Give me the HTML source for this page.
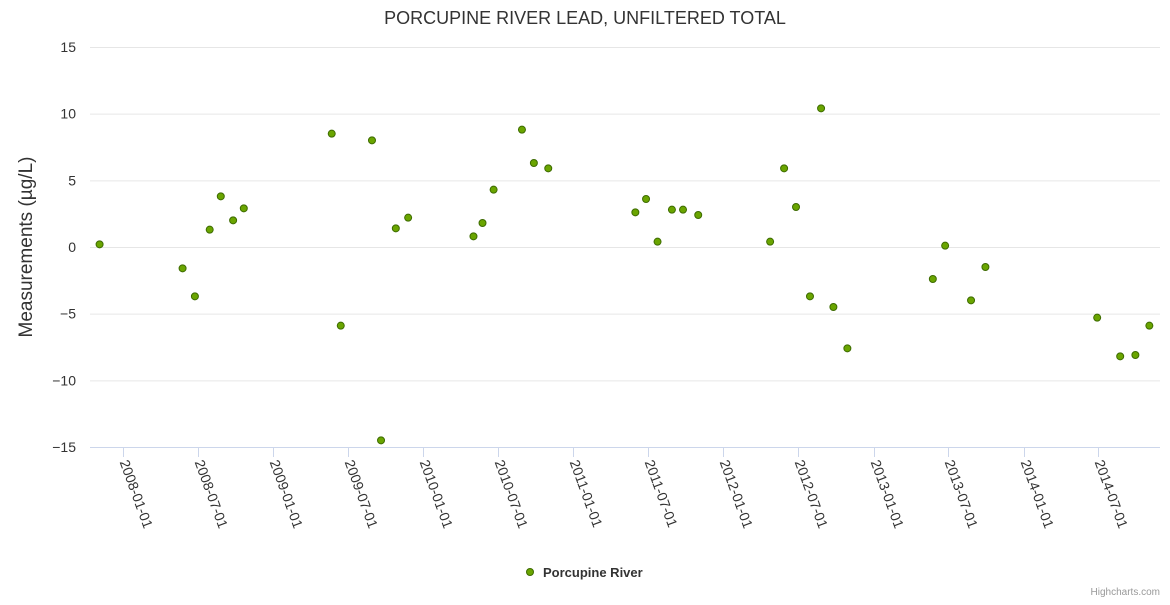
<!DOCTYPE html>
<html><head><meta charset="utf-8"><style>
body{margin:0;background:#fff;font-family:"Liberation Sans",sans-serif}
svg text{font-family:"Liberation Sans",sans-serif}
</style></head><body>
<svg id="c" width="1170" height="600"></svg>
<script>
const dates=["2007-11-05","2008-05-25","2008-06-24","2008-07-30","2008-08-26","2008-09-25","2008-10-21","2009-05-23","2009-06-14","2009-08-29","2009-09-20","2009-10-26","2009-11-25","2010-05-03","2010-05-25","2010-06-21","2010-08-29","2010-09-27","2010-11-01","2011-06-01","2011-06-27","2011-07-25","2011-08-29","2011-09-25","2011-11-01","2012-04-24","2012-05-28","2012-06-26","2012-07-30","2012-08-26","2012-09-25","2012-10-29","2013-05-25","2013-06-24","2013-08-26","2013-09-30","2014-06-29","2014-08-24","2014-09-30","2014-11-03"];
const values=[0.2,-1.6,-3.7,1.3,3.8,2.0,2.9,8.5,-5.9,8.0,-14.5,1.4,2.2,0.8,1.8,4.3,8.8,6.3,5.9,2.6,3.6,0.4,2.8,2.8,2.4,0.4,5.9,3.0,-3.7,10.4,-4.5,-7.6,-2.4,0.1,-4.0,-1.5,-5.3,-8.2,-8.1,-5.9];
const yTicks=[15,10,5,0,-5,-10,-15];
const xTicks=["2008-01-01","2008-07-01","2009-01-01","2009-07-01","2010-01-01","2010-07-01","2011-01-01","2011-07-01","2012-01-01","2012-07-01","2013-01-01","2013-07-01","2014-01-01","2014-07-01"];
const svg=document.getElementById('c');const NS="http://www.w3.org/2000/svg";
function mk(t,a,p){const e=document.createElementNS(NS,t);for(const k in a)e.setAttribute(k,a[k]);(p||svg).appendChild(e);return e;}
const d0=Date.UTC(2008,0,1),d1=Date.UTC(2014,6,1);
function X(s){const t=Date.parse(s+"T00:00:00Z");return 123+(t-d0)/(d1-d0)*975;}
function Y(v){return 247-v*200/15;}
let t=mk('text',{x:585,y:24,'text-anchor':'middle','font-size':18,fill:'#333'});t.textContent="PORCUPINE RIVER LEAD, UNFILTERED TOTAL";


yTicks.forEach(v=>{
 const g=mk('line',{x1:90,x2:1160,y1:Y(v)+0.5,y2:Y(v)+0.5,stroke:'#e6e6e6'});
 
 
 const l=mk('text',{x:76,y:Y(v)+5,'text-anchor':'end','font-size':14,fill:'#333'});l.textContent=v<0?"−"+(-v):v;
 
 
});
const ax=mk('line',{x1:90,x2:1160,y1:447.5,y2:447.5,stroke:'#ccd6eb'});


xTicks.forEach(s=>{
 const x=Math.round(X(s))+0.5;
 const k=mk('line',{x1:x,x2:x,y1:447,y2:457,stroke:'#ccd6eb'});
 
 
 const l=mk('text',{x:x-4,y:462,'font-size':14,fill:'#333',transform:`rotate(70 ${x-4} 462)`});l.textContent=s;
 
 
});
const yt=mk('text',{x:32,y:247,'text-anchor':'middle','font-size':19,fill:'#333',transform:'rotate(-90 32 247)'});yt.textContent="Measurements (µg/L)";


dates.forEach((d,i)=>{
 const c=mk('circle',{cx:X(d),cy:Y(values[i]),r:3.5,fill:'#6aa500',stroke:'#3d6b00','stroke-width':1});
 
 
});
const lc=mk('circle',{cx:530,cy:572,r:3.5,fill:'#6aa500',stroke:'#3d6b00'});


const lt=mk('text',{x:543,y:577,'font-size':13,'font-weight':'bold',fill:'#333'});lt.textContent="Porcupine River";


const cr=mk('text',{x:1160,y:595,'text-anchor':'end','font-size':10,fill:'#999'});cr.textContent="Highcharts.com";


</script>
</body></html>
